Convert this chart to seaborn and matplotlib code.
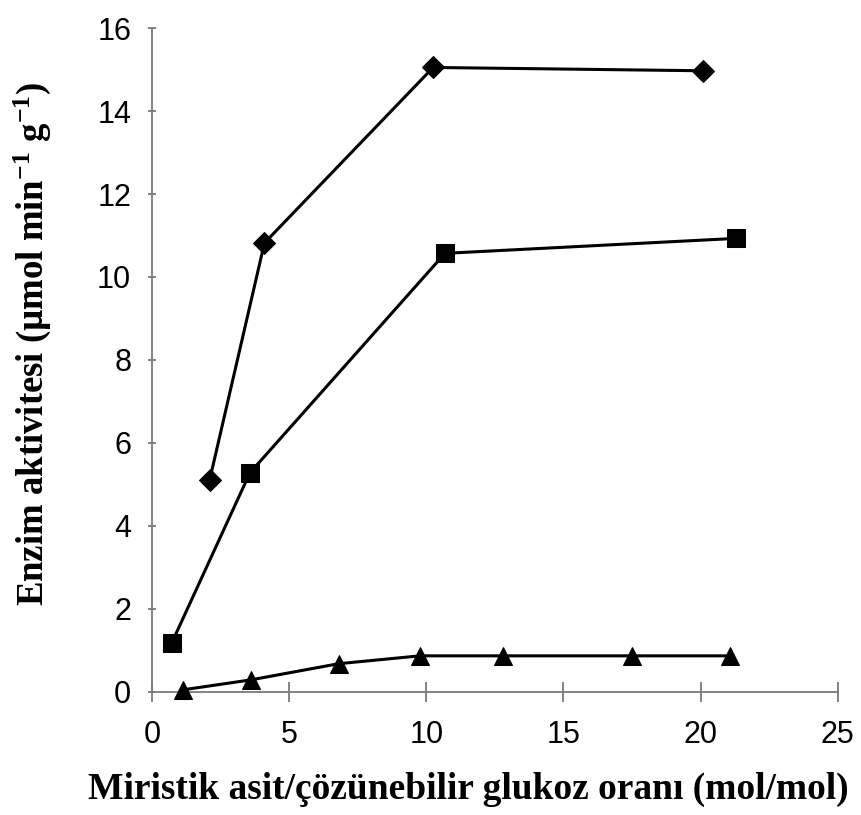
import matplotlib
matplotlib.use("Agg")
import matplotlib.pyplot as plt
import seaborn as sns
import pandas as pd

# Data
diamond_x = [2.1, 4.1, 10.25, 20.1]
diamond_y = [5.1, 10.82, 15.05, 14.97]
square_x = [0.72, 3.57, 10.68, 21.28]
square_y = [1.18, 5.28, 10.57, 10.93]
triangle_x = [1.12, 3.6, 6.8, 9.77, 12.79, 17.49, 21.06]
triangle_y = [0.05, 0.29, 0.68, 0.87, 0.87, 0.87, 0.87]

x_ticks = [0, 5, 10, 15, 20, 25]
y_ticks = [0, 2, 4, 6, 8, 10, 12, 14, 16]
x_label = "Miristik asit/çözünebilir glukoz oranı (mol/mol)"
y_label = r"Enzim aktivitesi (µmol min$^{\mathbf{-1}}$ g$^{\mathbf{-1}}$)"

df = pd.concat([
    pd.DataFrame({"x": diamond_x, "y": diamond_y, "s": "diamond"}),
    pd.DataFrame({"x": square_x, "y": square_y, "s": "square"}),
    pd.DataFrame({"x": triangle_x, "y": triangle_y, "s": "triangle"}),
], ignore_index=True)

sns.set_theme(style="white")
plt.rcParams["mathtext.fontset"] = "custom"
plt.rcParams["mathtext.rm"] = "Liberation Serif:bold"
plt.rcParams["mathtext.bf"] = "Liberation Serif:bold"
plt.rcParams["mathtext.it"] = "Liberation Serif:bold"

fig = plt.figure(figsize=(8.61, 8.15), dpi=100)
ax = fig.add_axes([0.1765, 0.151, 0.7965, 0.8146])

sizes = {"diamond": 11, "square": 12.5, "triangle": 13}
for name, mk in [("diamond", "D"), ("square", "s"), ("triangle", "^")]:
    sub = df[df["s"] == name]
    sns.lineplot(data=sub, x="x", y="y", ax=ax, color="black", linewidth=2.2,
                 marker=mk, markersize=sizes[name], markeredgecolor="black",
                 markerfacecolor="black", sort=False, legend=False, clip_on=False,
                 zorder=3)

ax.set_xlim(0, 25)
ax.set_ylim(0, 16)
ax.set_xticks(x_ticks)
ax.set_yticks(y_ticks)
for side in ["top", "right"]:
    ax.spines[side].set_visible(False)
for side in ["left", "bottom"]:
    ax.spines[side].set_color("#7a7a7a")
    ax.spines[side].set_linewidth(1.3)
ax.tick_params(axis="x", bottom=True, direction="inout", length=14, width=1.3,
               color="#7a7a7a", labelsize=22, labelcolor="black", pad=13)
ax.tick_params(axis="y", left=True, direction="inout", length=6, width=1.3,
               color="#7a7a7a", labelsize=22, labelcolor="black", pad=12)
for lab in ax.get_xticklabels() + ax.get_yticklabels():
    lab.set_fontfamily("Liberation Sans")

ax.set_xlabel(x_label, fontfamily="Liberation Serif", fontweight="bold", fontsize=27,
              color="black")
ax.set_ylabel(y_label, fontfamily="Liberation Serif", fontweight="bold", fontsize=26.5,
              color="black")
ax.xaxis.set_label_coords(0.462, -0.12)
ax.yaxis.set_label_coords(-0.145, 0.524)

fig.savefig("out.png", dpi=100, facecolor="white")
